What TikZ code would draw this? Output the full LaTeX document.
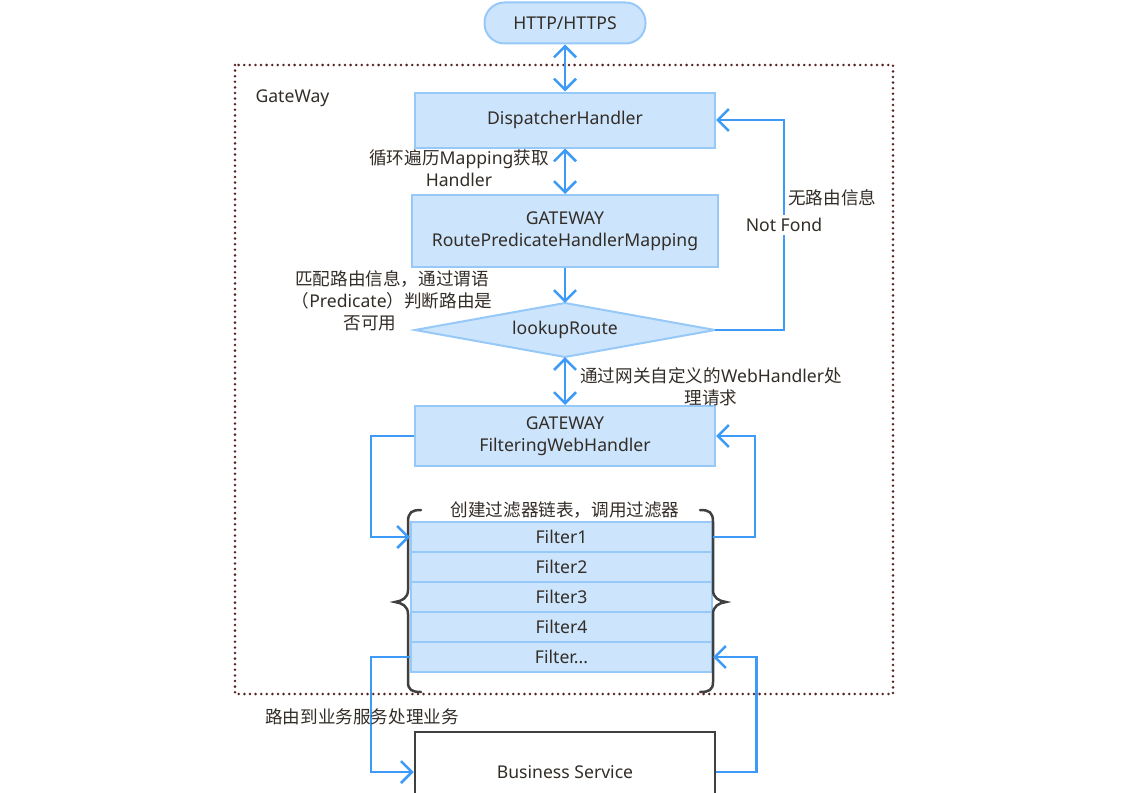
\documentclass[tikz,border=0pt]{standalone}
\usepackage{fontspec}
\setmainfont{Noto Sans}
\newfontfamily\cjkfont[Scale=1.0]{Noto Sans CJK SC}
\usetikzlibrary{arrows.meta}
\newcommand\zh[1]{{\cjkfont #1}}
\definecolor{boxfill}{RGB}{204,229,252}
\definecolor{boxline}{RGB}{150,200,248}
\definecolor{ablue}{RGB}{61,155,247}
\definecolor{txt}{RGB}{51,45,40}
\definecolor{frame}{RGB}{85,35,35}
\definecolor{brace}{RGB}{64,64,64}
\tikzset{
  every node/.style={text=txt, font=\fontsize{17.6}{22}\selectfont},
  box/.style={rectangle, draw=boxline, fill=boxfill, line width=2pt, minimum width=300pt, minimum height=55pt, align=center, inner sep=2pt},
  pill/.style={rectangle, rounded corners=20pt, draw=boxline, fill=boxfill, line width=2pt, minimum width=161pt, minimum height=41pt},
  frow/.style={rectangle, draw=boxline, fill=boxfill, line width=2pt, minimum width=301pt, minimum height=30pt, inner sep=0pt},
  dmdshape/.style={draw=boxline, fill=boxfill, line width=2pt, line join=miter},
  bsbox/.style={rectangle, draw=brace, fill=white, line width=2.5pt, minimum width=300pt, minimum height=80pt},
  lbl/.style={align=center, inner sep=1pt},
  arr/.style={draw=ablue, line width=2.5pt, -{Straight Barb[length=11pt,width=22pt]}},
  darr/.style={draw=ablue, line width=2.5pt, {Straight Barb[length=11pt,width=22pt]}-{Straight Barb[length=11pt,width=22pt]}},
  bracepath/.style={draw=brace, line width=2.5pt, line cap=round},
  dotframe/.style={draw=frame, line width=2.8pt, line cap=round, dash pattern=on 0pt off 5.6pt}
}
\begin{document}
\begin{tikzpicture}[x=1pt,y=-1pt]
\useasboundingbox (0,0) rectangle (1147,792);
\begin{scope}
\clip (0,0) rectangle (1147,792);
% frame
\draw[dotframe] (235,65) rectangle (893,694);
\node[anchor=west] (gw) at (252,98) {GateWay};

% nodes
\node[pill] (http) at (565,23) {HTTP/HTTPS};
\node[box] (disp) at (565,120) {DispatcherHandler};
\node[box, minimum width=306pt, minimum height=72pt] (rphm) at (565,231) {GATEWAY\\RoutePredicateHandlerMapping};
\draw[dmdshape] (415,330) -- (565,303) -- (715,330) -- (565,357) -- cycle;
\node[rectangle, minimum width=300pt, minimum height=54pt, inner sep=0pt] (look) at (565,330) {lookupRoute};
\node[box, minimum height=60pt] (fwh) at (565,436) {GATEWAY\\FilteringWebHandler};
\node[frow] (f1) at (561.5,537) {Filter1};
\node[frow] (f2) at (561.5,567) {Filter2};
\node[frow] (f3) at (561.5,597) {Filter3};
\node[frow] (f4) at (561.5,627) {Filter4};
\node[frow] (f5) at (561.5,657) {Filter...};
\node[bsbox] (bs) at (565,772) {Business Service};

% braces
\draw[bracepath] (421,510) .. controls (412,510) and (408,512) .. (408,522) -- (408,590)
  .. controls (408,598) and (402,601) .. (395,602) .. controls (402,603) and (408,606) .. (408,614)
  -- (408,682) .. controls (408,690) and (412,692) .. (421,692);
\draw[bracepath] (700,510) .. controls (709,510) and (713,512) .. (713,522) -- (713,590)
  .. controls (713,598) and (719,601) .. (726,602) .. controls (719,603) and (713,606) .. (713,614)
  -- (713,682) .. controls (713,690) and (709,692) .. (700,692);
\node[lbl] (lchain) at (565,510) {\zh{创建过滤器链表，调用过滤器}};

% connectors
\draw[darr] (http.south) -- (disp.north);
\draw[darr] (disp.south) -- (rphm.north);
\draw[arr] (rphm.south) -- (look.north);
\draw[darr] (look.south) -- (fwh.north);
\draw[arr] (look.east) -- ++(69,0) |- (disp.east);
\draw[arr] (fwh.west) -- ++(-43,0) |- (f1.west);
\draw[arr] (f1.east) -- ++(42,0) |- (fwh.east);
\draw[arr] (f5.west) -- ++(-39,0) |- (bs.west);
\draw[arr] (bs.east) -- ++(40,0) |- (f5.east);

% labels
\node[lbl] (l1) at (459,168) {\zh{循环遍历}Mapping\zh{获取}\\Handler};
\node[lbl] (l2) at (392,301) {\zh{匹配路由信息，通过谓语}\\\zh{（}Predicate\zh{）判断路由是}\\\zh{否可用}\hspace*{44pt}};
\node[lbl] (l3) at (711,387) {\zh{通过网关自定义的}WebHandler\zh{处}\\\zh{理请求}};
\node[lbl] (l4) at (362,717) {\zh{路由到业务服务处理业务}};
\node[lbl, anchor=west] (l5) at (787,198) {\zh{无路由信息}};
\node[lbl, fill=white, inner sep=3pt] (l6) at (784,225) {Not Fond};
\end{scope}
\end{tikzpicture}
\end{document}
